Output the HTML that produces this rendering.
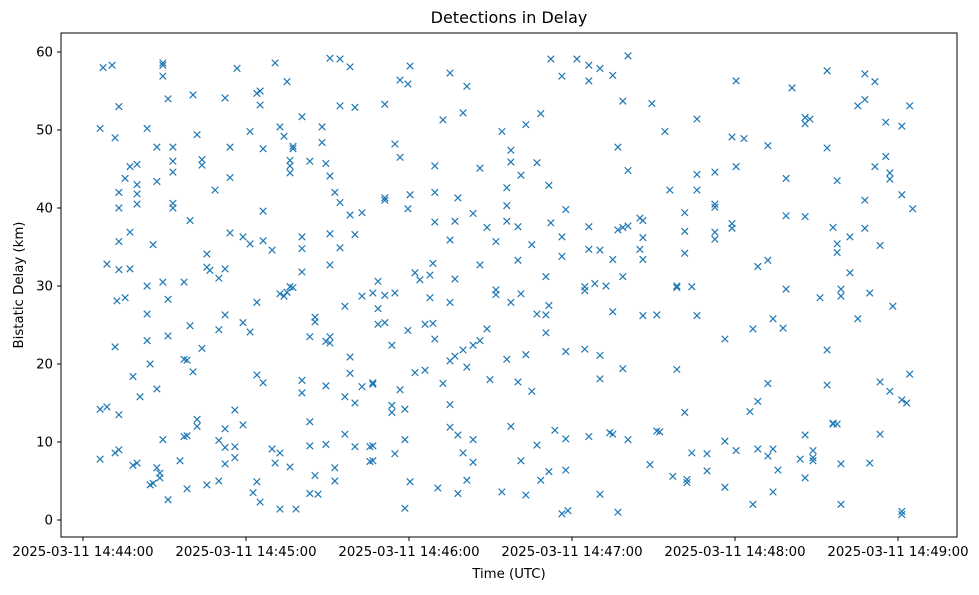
<!DOCTYPE html>
<html><head><meta charset="utf-8"><style>
body{margin:0;background:#fff;}
svg text{font-family:"DejaVu Sans","Liberation Sans",sans-serif;fill:#000;}
</style></head><body>
<svg id="chart" width="979" height="590" xmlns="http://www.w3.org/2000/svg">
<rect width="979" height="590" fill="#fff"/>
<text x="509" y="23" font-size="16" text-anchor="middle">Detections in Delay</text>
<g id="marks"></g>
<g id="axes"></g>
<rect x="61" y="33" width="896" height="504" fill="none" stroke="#000" stroke-width="1"/>
<text x="509" y="578" font-size="13.3" text-anchor="middle">Time (UTC)</text>
<text x="0" y="0" font-size="13.3" text-anchor="middle" transform="translate(23,285) rotate(-90)">Bistatic Delay (km)</text>
</svg>
<script>
const xTickSec=[0,60,120,180,240,300];
const xTickLabels=["2025-03-11 14:44:00","2025-03-11 14:45:00","2025-03-11 14:46:00","2025-03-11 14:47:00","2025-03-11 14:48:00","2025-03-11 14:49:00"];
const yTicks=[0,10,20,30,40,50,60];
const timeSec=[6.3,6.3,6.3,7.4,8.8,8.8,10.7,11.8,11.8,11.8,12.5,13.2,13.2,13.2,13.2,13.2,13.2,13.2,15.5,15.5,17.3,17.3,17.3,18.4,18.4,19.9,19.9,19.9,19.9,19.9,21.0,23.6,23.6,23.6,23.6,24.7,24.7,25.8,25.8,27.2,27.2,27.2,27.2,28.3,28.3,29.4,29.4,29.4,29.4,29.4,31.3,31.3,31.3,31.3,33.1,33.1,33.1,33.1,33.1,35.7,37.2,37.2,37.2,38.3,38.3,38.3,39.4,39.4,40.5,40.5,42.0,42.0,42.0,43.8,43.8,43.8,45.6,45.6,45.6,46.7,48.6,50.0,50.0,50.0,50.0,52.3,52.3,52.3,52.3,52.3,52.3,54.1,54.1,54.1,55.9,55.9,55.9,56.7,58.9,58.9,58.9,61.5,61.5,61.5,62.6,64.0,64.0,64.0,64.0,65.2,65.2,65.2,66.3,66.3,66.3,66.3,69.6,69.6,70.7,70.7,72.5,72.5,72.5,72.5,74.0,74.0,75.1,75.1,76.2,76.2,76.2,76.2,76.2,77.3,77.3,77.3,78.4,80.6,80.6,80.6,80.6,80.6,80.6,83.5,83.5,83.5,83.5,83.5,85.4,85.4,85.4,86.5,88.0,88.0,89.4,89.4,89.4,89.4,90.9,90.9,90.9,90.9,90.9,90.9,92.7,92.7,92.7,94.6,94.6,94.6,94.6,96.4,96.4,96.4,98.3,98.3,98.3,98.3,100.1,100.1,100.1,100.1,102.7,102.7,102.7,105.6,105.6,106.7,106.7,106.7,106.7,106.7,108.6,108.6,108.6,111.1,111.1,111.1,111.1,111.1,113.7,113.7,113.7,114.8,114.8,114.8,116.7,116.7,116.7,118.5,118.5,118.5,119.6,119.6,119.6,120.4,120.4,120.4,122.2,122.2,124.0,125.9,125.9,127.7,127.7,128.8,128.8,129.5,129.5,129.5,129.5,130.6,132.5,132.5,135.1,135.1,135.1,135.1,135.1,135.1,136.9,136.9,136.9,138.0,138.0,138.0,139.9,139.9,139.9,141.3,141.3,141.3,143.6,143.6,143.6,143.6,146.1,146.1,146.1,148.7,148.7,149.8,152.0,152.0,152.0,154.2,154.2,156.0,156.0,156.0,156.0,157.5,157.5,157.5,157.5,160.1,160.1,160.1,161.2,161.2,161.2,163.0,163.0,163.0,165.2,165.2,167.1,167.1,167.1,168.5,168.5,170.4,170.4,170.4,171.5,171.5,171.5,172.2,172.2,173.7,176.3,176.3,176.3,176.3,177.7,177.7,177.7,177.7,178.5,181.8,184.7,184.7,184.7,186.2,186.2,186.2,186.2,186.2,188.4,190.3,190.3,190.3,190.3,190.3,192.5,193.9,195.0,195.0,195.0,195.0,196.9,196.9,196.9,198.7,198.7,198.7,198.7,200.6,200.6,200.6,200.6,205.0,205.0,206.1,206.1,206.1,206.1,208.7,209.4,211.2,211.2,212.3,214.2,216.0,217.1,218.6,218.6,218.6,221.5,221.5,221.5,221.5,222.3,222.3,224.1,224.1,226.0,226.0,226.0,226.0,229.7,229.7,232.6,232.6,232.6,232.6,232.6,236.3,236.3,236.3,238.9,238.9,238.9,240.4,240.4,240.4,243.3,245.5,246.6,246.6,248.4,248.4,248.4,252.1,252.1,252.1,252.1,254.0,254.0,254.0,255.8,257.7,258.8,258.8,258.8,261.0,264.0,265.8,265.8,265.8,265.8,265.8,267.6,268.7,268.7,268.7,271.3,273.9,273.9,273.9,273.9,276.1,276.1,276.1,277.6,277.6,277.6,277.6,279.0,279.0,279.0,279.0,282.3,282.3,285.2,285.2,287.8,287.8,287.8,287.8,289.6,289.6,291.5,291.5,293.4,293.4,293.4,295.5,295.5,297.0,297.0,297.0,298.1,301.4,301.4,301.4,301.4,301.4,303.2,304.3,304.3,305.4];
const delayKm=[50.2,14.2,7.8,58.0,14.5,32.8,58.3,22.2,8.6,49.0,28.1,53.0,42.0,35.7,13.5,9.0,40.0,32.1,43.8,28.5,45.3,36.9,32.2,18.4,7.0,45.6,43.0,41.8,40.5,7.3,15.8,26.4,50.2,30.0,23.0,20.0,4.5,4.7,35.3,47.8,43.4,16.8,6.7,5.4,6.0,58.6,58.3,56.9,30.5,10.3,54.0,28.3,23.6,2.6,46.0,44.6,47.8,40.6,40.0,7.6,30.5,20.6,10.7,20.5,10.8,4.0,38.4,24.9,54.5,19.0,49.4,12.9,12.0,45.5,46.2,22.0,34.1,32.4,4.5,32.0,42.3,31.0,24.4,10.2,5.0,54.1,32.2,26.3,11.7,9.3,7.2,47.8,43.9,36.8,14.1,9.4,8.0,57.9,36.3,25.3,12.2,49.8,35.4,24.1,3.5,54.7,27.9,18.6,4.9,55.0,53.2,2.3,47.6,39.6,35.8,17.6,34.6,9.1,58.6,7.3,50.4,29.0,8.6,1.4,49.2,28.7,56.2,29.2,46.1,45.4,44.5,29.9,6.8,47.9,47.6,29.8,1.4,51.7,31.8,36.3,34.8,17.9,16.3,46.0,23.5,12.6,9.5,3.4,26.0,25.4,5.7,3.3,48.4,50.4,45.7,22.9,17.2,9.7,59.2,36.7,44.1,23.5,22.7,32.7,42.0,6.7,5.0,59.1,53.1,40.7,34.9,27.4,15.8,11.0,58.1,39.1,20.9,18.8,52.9,36.6,9.4,15.0,28.7,17.1,39.4,9.4,7.5,29.1,17.6,17.4,9.5,7.6,30.6,27.1,25.1,41.3,41.0,53.3,25.3,28.8,13.8,14.7,22.4,48.2,29.1,8.5,56.4,46.5,16.7,1.5,10.3,14.2,55.9,39.9,24.3,58.2,41.7,4.9,31.7,18.9,30.8,25.1,19.2,31.4,28.5,32.9,25.2,45.4,42.0,38.2,23.2,4.1,51.3,17.5,57.3,35.9,27.9,20.4,14.8,11.9,38.3,30.9,21.0,41.3,10.9,3.4,52.2,21.8,8.6,55.6,19.6,5.1,39.3,22.4,10.3,7.4,45.1,32.7,23.0,37.5,24.5,18.0,35.7,28.9,29.5,49.8,3.6,42.6,40.3,38.3,20.6,47.4,45.9,27.9,12.0,33.3,37.6,17.7,44.2,7.6,29.0,50.7,21.2,3.2,35.3,16.5,45.8,26.4,9.6,52.1,5.1,31.2,26.3,24.0,42.9,27.5,6.2,59.1,38.1,11.5,56.9,36.3,33.8,0.8,39.8,21.6,10.4,6.4,1.2,59.1,29.4,21.9,29.9,58.3,56.3,37.6,34.7,10.7,30.3,57.9,34.6,21.1,18.1,3.3,30.0,11.2,57.0,33.4,26.7,11.0,47.8,37.2,1.0,53.7,31.2,37.5,19.4,59.5,44.8,37.7,10.3,38.7,34.7,33.4,26.2,36.2,38.4,7.1,53.4,26.3,11.4,11.3,49.8,42.3,5.6,19.3,29.8,30.0,39.4,37.0,34.2,13.8,4.8,5.2,29.9,8.6,51.4,44.3,42.3,26.2,8.5,6.3,44.6,40.5,40.1,36.0,36.9,23.2,10.1,4.2,49.1,38.0,37.4,56.3,45.3,8.9,48.9,13.9,24.5,2.0,32.5,15.2,9.1,48.0,33.3,17.5,8.2,25.8,9.1,3.6,6.4,24.6,43.8,39.0,29.6,55.4,7.8,50.8,51.6,38.9,10.9,5.4,51.4,8.0,8.9,7.6,28.5,57.6,47.7,21.8,17.3,37.5,12.4,12.3,43.5,34.3,35.4,12.3,29.6,28.7,7.2,2.0,36.3,31.7,53.1,25.8,57.2,53.9,41.0,37.4,29.1,7.3,45.3,56.2,35.2,17.7,11.0,46.6,51.0,44.5,43.7,16.5,27.4,50.5,41.7,15.4,1.1,0.7,15.0,53.1,18.7,39.9];

const NS='http://www.w3.org/2000/svg';
function xScale(s){return 83+s*163/60;}
function yScale(v){return 520-v*7.8;}
const marks=document.getElementById('marks');
const axes=document.getElementById('axes');
for(let i=0;i<timeSec.length;i++){
  const cx=xScale(timeSec[i]),cy=yScale(delayKm[i]),r=3.3;
  const p=document.createElementNS(NS,'path');
  p.setAttribute('d',`M${cx-r},${cy-r}L${cx+r},${cy+r}M${cx-r},${cy+r}L${cx+r},${cy-r}`);
  p.setAttribute('stroke','#1f77b4');p.setAttribute('stroke-width','1.2');p.setAttribute('fill','none');
  
  
  marks.appendChild(p);
}
xTickSec.forEach((s,i)=>{
  const x=xScale(s);
  const l=document.createElementNS(NS,'line');
  l.setAttribute('x1',x);l.setAttribute('x2',x);l.setAttribute('y1',537);l.setAttribute('y2',541);l.setAttribute('stroke','#000');
  
  
  axes.appendChild(l);
  const t=document.createElementNS(NS,'text');
  t.setAttribute('x',x);t.setAttribute('y',556);t.setAttribute('font-size','13.3');t.setAttribute('text-anchor','middle');
  t.textContent=xTickLabels[i];
  
  
  axes.appendChild(t);
});
yTicks.forEach(v=>{
  const y=yScale(v);
  const l=document.createElementNS(NS,'line');
  l.setAttribute('x1',57);l.setAttribute('x2',61);l.setAttribute('y1',y);l.setAttribute('y2',y);l.setAttribute('stroke','#000');
  
  
  axes.appendChild(l);
  const t=document.createElementNS(NS,'text');
  t.setAttribute('x',53);t.setAttribute('y',y+4.5);t.setAttribute('font-size','13.3');t.setAttribute('text-anchor','end');
  t.textContent=v;
  
  
  axes.appendChild(t);
});
</script>
</body></html>
